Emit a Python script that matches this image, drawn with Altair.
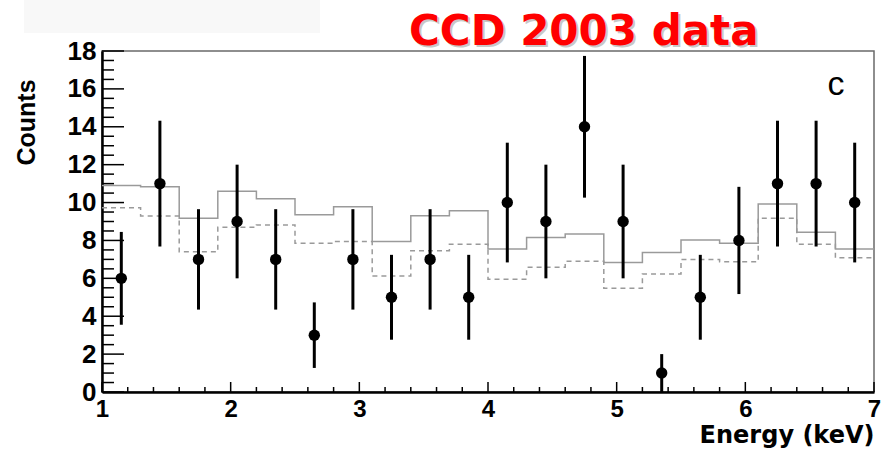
import altair as alt
import pandas as pd

# ---- data ----
bin_centers = [1.15, 1.45, 1.75, 2.05, 2.35, 2.65, 2.95, 3.25, 3.55, 3.85,
               4.15, 4.45, 4.75, 5.05, 5.35, 5.65, 5.95, 6.25, 6.55, 6.85]
counts = [6, 11, 7, 9, 7, 3, 7, 5, 7, 5, 10, 9, 14, 9, 1, 5, 8, 11, 11, 10]
count_err = [2.45, 3.32, 2.65, 3.0, 2.65, 1.73, 2.65, 2.24, 2.65, 2.24,
             3.16, 3.0, 3.74, 3.0, 1.0, 2.24, 2.83, 3.32, 3.32, 3.16]

bin_edges = [1.0, 1.3, 1.6, 1.9, 2.2, 2.5, 2.8, 3.1, 3.4, 3.7, 4.0,
             4.3, 4.6, 4.9, 5.2, 5.5, 5.8, 6.1, 6.4, 6.7, 7.0]
model_solid = [10.9, 10.84, 9.17, 10.6, 10.2, 9.35, 9.78, 7.94, 9.31, 9.57,
               7.55, 8.15, 8.34, 6.83, 7.37, 8.02, 7.85, 9.93, 8.43, 7.55]
model_dashed = [9.73, 9.29, 7.4, 8.69, 8.82, 7.85, 7.94, 6.12, 7.46, 7.8,
                5.95, 6.58, 6.9, 5.47, 6.23, 7.0, 6.88, 9.17, 7.8, 7.09]

x_major = [1, 2, 3, 4, 5, 6, 7]
x_minor = [1.2, 1.4, 1.6, 1.8, 2.2, 2.4, 2.6, 2.8, 3.2, 3.4, 3.6, 3.8,
           4.2, 4.4, 4.6, 4.8, 5.2, 5.4, 5.6, 5.8, 6.2, 6.4, 6.6, 6.8]
y_major = [0, 2, 4, 6, 8, 10, 12, 14, 16, 18]
y_minor = [0.5, 1, 1.5, 2.5, 3, 3.5, 4.5, 5, 5.5, 6.5, 7, 7.5, 8.5, 9, 9.5,
           10.5, 11, 11.5, 12.5, 13, 13.5, 14.5, 15, 15.5, 16.5, 17, 17.5]

W, H = 772, 341

pts = pd.DataFrame({
    "e": bin_centers,
    "c": counts,
    "lo": [c - e for c, e in zip(counts, count_err)],
    "hi": [c + e for c, e in zip(counts, count_err)],
})
hist = pd.DataFrame({
    "edge": bin_edges,
    "solid": model_solid + [model_solid[-1]],
    "dashed": model_dashed + [model_dashed[-1]],
})

xs = alt.Scale(domain=[1, 7], nice=False, zero=False)
ys = alt.Scale(domain=[0, 18], nice=False, zero=True)

x_axis = alt.Axis(
    title="Energy (keV)", values=x_major, format="d", grid=False, ticks=False,
    domainColor="black", domainWidth=2.5, labelFlush=False,
    labelFont="Liberation Sans", labelFontSize=24, labelFontWeight="bold",
    labelColor="black", labelPadding=5,
    titleX=W, titleY=50, titleAlign="right", titleBaseline="alphabetic",
    titleFont="DejaVu Sans", titleFontSize=24, titleFontWeight="bold",
    titleColor="black")
y_axis = alt.Axis(
    title="Counts", values=y_major, format="d", grid=False, ticks=False,
    domainColor="black", domainWidth=2.5, labelFlush=False,
    labelFont="Liberation Sans", labelFontSize=26, labelFontWeight="bold",
    labelColor="black", labelPadding=6,
    titleX=-76, titleY=71, titleAngle=-90, titleAlign="center",
    titleBaseline="middle",
    titleFont="Liberation Sans", titleFontSize=25, titleFontWeight="bold",
    titleColor="black")


def X(field):
    return alt.X(field, scale=xs, axis=x_axis)


def Y(field):
    return alt.Y(field, scale=ys, axis=y_axis)


solid = alt.Chart(hist).mark_line(interpolate="step-after", color="#9a9a9a",
                                  strokeWidth=1.5).encode(
    x=X("edge:Q"), y=Y("solid:Q"))
dashed = alt.Chart(hist).mark_line(interpolate="step-after", color="#9a9a9a",
                                   strokeWidth=1.5, strokeDash=[5, 4]).encode(
    x=X("edge:Q"), y=Y("dashed:Q"))
errs = alt.Chart(pts).mark_rule(color="black", strokeWidth=3).encode(
    x=X("e:Q"), y=Y("lo:Q"), y2="hi:Q")
dots = alt.Chart(pts).mark_circle(color="black", opacity=1, size=130).encode(
    x=X("e:Q"), y=Y("c:Q"))

ymaj = alt.Chart(pd.DataFrame({"v": y_major})).mark_rule(color="black", strokeWidth=1.5).encode(
    y=Y("v:Q"), x=alt.value(0), x2=alt.value(22))
ymin = alt.Chart(pd.DataFrame({"v": y_minor})).mark_rule(color="black", strokeWidth=1.5).encode(
    y=Y("v:Q"), x=alt.value(0), x2=alt.value(12))
xmaj = alt.Chart(pd.DataFrame({"v": x_major})).mark_rule(color="black", strokeWidth=1.5).encode(
    x=X("v:Q"), y=alt.value(H), y2=alt.value(H - 10))
xmin = alt.Chart(pd.DataFrame({"v": x_minor})).mark_rule(color="black", strokeWidth=1.5).encode(
    x=X("v:Q"), y=alt.value(H), y2=alt.value(H - 5))

label_df = pd.DataFrame({"t": ["c"]})
panel_label = alt.Chart(label_df).mark_text(
    font="Liberation Sans", fontSize=34, align="center", baseline="alphabetic",
    color="black").encode(text="t:N", x=alt.value(734), y=alt.value(44))

title_df = pd.DataFrame({"t": ["CCD 2003 data"]})
title_shadow = alt.Chart(title_df).mark_text(
    font="DejaVu Sans", fontSize=42, fontWeight="bold", align="left",
    baseline="alphabetic", color="#c8c8c8").encode(
    text="t:N", x=alt.value(307 + 2), y=alt.value(-6 + 2))
title_main = alt.Chart(title_df).mark_text(
    font="DejaVu Sans", fontSize=42, fontWeight="bold", align="left",
    baseline="alphabetic", color="#ff0000").encode(
    text="t:N", x=alt.value(307), y=alt.value(-6))

bg_df = pd.DataFrame({"t": [0]})
bg = alt.Chart(bg_df).mark_rect(color="#f8f8f8").encode(
    x=alt.value(-78), x2=alt.value(218), y=alt.value(-51), y2=alt.value(-18))

chart = alt.layer(
    solid, bg, dashed, ymaj, ymin, xmaj, xmin, errs, dots,
    panel_label, title_shadow, title_main,
).properties(
    width=W, height=H,
    background="white",
    autosize=alt.AutoSizeParams(type="none"),
    padding={"left": 102, "top": 51, "right": 11, "bottom": 59},
).configure_view(
    stroke="#6a6a6a", strokeWidth=1.5,
)

chart.save("out.html", embed_options={"renderer": "svg", "actions": False})
